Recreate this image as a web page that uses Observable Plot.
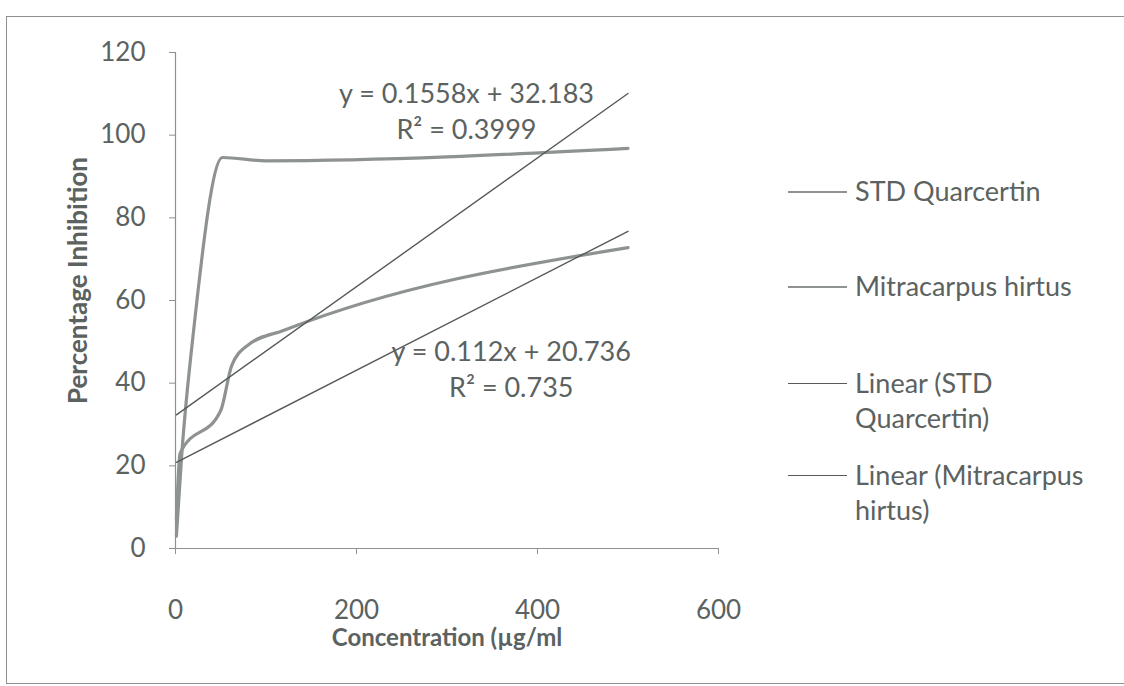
<!DOCTYPE html>
<html><head><meta charset="utf-8">
<script src="https://cdn.jsdelivr.net/npm/d3@7"></script>
<script src="https://cdn.jsdelivr.net/npm/@observablehq/plot@0.6"></script>
<style>
body{margin:0;background:#fff;}
#wrap{position:relative;width:1124px;height:686px;overflow:hidden;font-family:Lato,sans-serif;color:#5b625f;background:#fff;}
#frame{position:absolute;left:6px;top:16px;width:1200px;height:666px;border-top:1.5px solid #8d918f;border-left:1.5px solid #8d918f;border-bottom:1.5px solid #8d918f;pointer-events:none;}
#chart{position:absolute;left:0;top:0;}
.leg{position:absolute;left:788px;font-size:27px;line-height:35px;}
.sw{position:absolute;left:0;top:18px;width:59px;height:0;}
.lt{position:absolute;left:67px;top:0;width:262px;}
</style></head>
<body><div id="wrap"><div id="chart"></div><div id="legend"></div><div id="frame"></div></div>
<script>
// Data
const stdConc = [1, 7, 20, 52, 100, 500];
const stdInhib = [3, 23, 52.7, 94.6, 93.8, 96.8];
const mhConc = [1, 5, 50, 62, 80, 120, 500];
const mhInhib = [7, 23, 33.4, 44.2, 49.2, 52.8, 72.8];
const seriesNames = ["STD Quarcertin", "Mitracarpus hirtus"];
const trendNames = ["Linear (STD Quarcertin)", "Linear (Mitracarpus hirtus)"];
const trendSlope = [0.1558, 0.112];
const trendIntercept = [32.183, 20.736];
const trendR2 = ["0.3999", "0.735"];
const eqX = [321.5, 371];
const eqY = [106.3, 43.7];
const xTicks = [0, 200, 400, 600];
const yTicks = [0, 20, 40, 60, 80, 100, 120];

const dataColor = "#8e9390";
const trendColor = "#555b58";
const axisColor = "#8d918f";
const textColor = "#5b625f";

const series = [
  stdConc.map((c, i) => ({series: seriesNames[0], x: c, y: stdInhib[i]})),
  mhConc.map((c, i) => ({series: seriesNames[1], x: c, y: mhInhib[i]}))
];
const trends = series.flatMap((s, k) => {
  const [x0, x1] = d3.extent(s, d => d.x);
  return [x0, x1].map(x => ({series: trendNames[k], x, y: trendSlope[k] * x + trendIntercept[k]}));
});
const eqs = trendSlope.map((m, k) => ({
  x: eqX[k], y: eqY[k],
  text: `y = ${m}x + ${trendIntercept[k]}\nR² = ${trendR2[k]}`
}));

const chart = Plot.plot({
  width: 760, height: 686,
  marginLeft: 175, marginRight: 42, marginTop: 52, marginBottom: 138,
  style: {fontFamily: "Lato, sans-serif", fontSize: "26px", color: textColor, background: "transparent", overflow: "visible"},
  x: {domain: [0, 600]},
  y: {domain: [0, 120]},
  marks: [
    Plot.ruleY([0], {stroke: axisColor, strokeWidth: 1.2}),
    Plot.ruleX([0], {stroke: axisColor, strokeWidth: 1.2}),
    Plot.axisX({ticks: xTicks, tickSize: 6, tickPadding: 46, stroke: axisColor, fill: textColor, label: null, tickFormat: d => String(d)}),
    Plot.axisY({ticks: yTicks, tickSize: 6, tickPadding: 24, stroke: axisColor, fill: textColor, label: null, tickFormat: d => String(d)}),
    Plot.line(series.flat(), {x: "x", y: "y", z: "series", stroke: dataColor, strokeWidth: 3.2, curve: "monotone-x"}),
    Plot.line(trends, {x: "x", y: "y", z: "series", stroke: trendColor, strokeWidth: 1.4}),
    Plot.text(eqs, {x: "x", y: "y", text: "text", fontSize: 27, lineHeight: 1.33, fill: textColor, textAnchor: "middle"}),
    Plot.text(["Concentration (µg/ml"], {text: d => d, frameAnchor: "bottom", dy: 90, lineAnchor: "middle", textAnchor: "middle", fontSize: 24, fontWeight: "bold", fill: textColor}),
    Plot.text(["Percentage Inhibition"], {text: d => d, frameAnchor: "left", rotate: -90, dx: -97, dy: -20, lineAnchor: "middle", textAnchor: "middle", fontSize: 26, fontWeight: "bold", fill: textColor})
  ]
});
document.getElementById("chart").appendChild(chart);

// Legend
const legendItems = [
  {name: seriesNames[0], color: dataColor, w: 2.5, top: 173},
  {name: seriesNames[1], color: dataColor, w: 2.5, top: 268},
  {name: trendNames[0], color: trendColor, w: 1.4, top: 365},
  {name: trendNames[1], color: trendColor, w: 1.4, top: 457}
];
const leg = document.getElementById("legend");
for (const it of legendItems) {
  const d = document.createElement("div");
  d.className = "leg";
  d.style.top = it.top + "px";
  const sw = document.createElement("div");
  sw.className = "sw";
  sw.style.borderTop = `${it.w}px solid ${it.color}`;
  const t = document.createElement("div");
  t.className = "lt";
  t.textContent = it.name;
  d.appendChild(sw); d.appendChild(t);
  leg.appendChild(d);
}
</script>
</body></html>
